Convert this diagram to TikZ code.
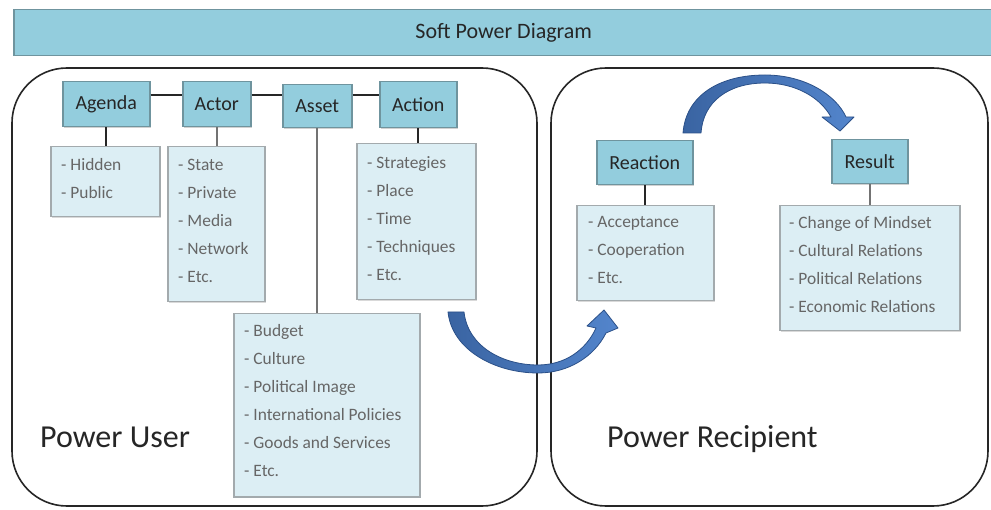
\documentclass[tikz,border=0pt]{standalone}
\usepackage{fontspec}
\setmainfont{Carlito}
\usetikzlibrary{arrows.meta,shadows}
\definecolor{hdrfill}{HTML}{93CDDD}
\definecolor{hdrdraw}{HTML}{6F949E}
\definecolor{lstfill}{HTML}{DCEEF4}
\definecolor{lstdraw}{HTML}{A3AAAD}
\definecolor{lsttext}{HTML}{666666}
\definecolor{arrdark}{HTML}{3A64A2}
\definecolor{arrlight}{HTML}{5385CC}
\definecolor{arredge}{HTML}{2B5088}
\tikzset{
  hdr/.style={draw=hdrdraw, line width=1.5pt, fill=hdrfill, anchor=north west, inner sep=0pt,
    font=\fontsize{20}{22}\selectfont, text=black!85,
    drop shadow={shadow xshift=1.5pt, shadow yshift=-1.5pt, fill=black!18, opacity=1}},
  lst/.style={draw=lstdraw, line width=1.5pt, fill=lstfill, anchor=north west, inner sep=0pt,
    drop shadow={shadow xshift=1.5pt, shadow yshift=-1.5pt, fill=black!15, opacity=1}},
  lsttxt/.style={anchor=north west, inner sep=0pt, align=left, text=lsttext,
    font=\fontsize{17.4}{28}\selectfont},
  big/.style={draw=black!85, line width=1.6pt, rounded corners=55pt},
  conn/.style={draw=black!85, line width=2.5pt},
  connd/.style={draw=black!85, line width=2pt},
  connv/.style={draw=black!55, line width=2pt},
  blockarr/.style={draw=arredge, line width=0.8pt, left color=arrdark, right color=arrlight, line join=round},
  region/.style={anchor=base west, inner sep=0pt, font=\fontsize{32}{36}\selectfont, text=black!85}
}
\begin{document}
\begin{tikzpicture}[x=1pt,y=-1pt]
\useasboundingbox[fill=white] (0,0) rectangle (991,510);
% title
\node[draw=hdrdraw, line width=1.5pt, fill=hdrfill, anchor=north west, inner sep=0pt,
  minimum width=980pt, minimum height=46pt, font=\fontsize{22}{24}\selectfont, text=black!85]
  (title) at (13,9) {Soft Power Diagram};
% big regions
\draw[big] (12,68) rectangle (537,506);
\draw[big] (551,68) rectangle (988,506);
\node[region] (pu) at (40,448) {Power User};
\node[region] (pr) at (607,448) {Power Recipient};
% list boxes
\node[lst, minimum width=109pt, minimum height=70pt] (agl) at (50,146) {};
\node[lst, minimum width=97pt, minimum height=155pt] (acl) at (167,146) {};
\node[lst, minimum width=119pt, minimum height=156pt] (anl) at (356,143) {};
\node[lst, minimum width=186pt, minimum height=183pt] (asl) at (233,313) {};
\node[lst, minimum width=137pt, minimum height=95pt] (rel) at (576,205) {};
\node[lst, minimum width=180pt, minimum height=125pt] (rsl) at (779,205) {};
% header boxes
\node[hdr, minimum width=87pt, minimum height=45pt] (agenda) at (62,81) {Agenda};
\node[hdr, minimum width=68pt, minimum height=45pt] (actor) at (182,81) {Actor};
\node[hdr, minimum width=69pt, minimum height=43pt] (asset) at (282,84) {Asset};
\node[hdr, minimum width=77pt, minimum height=46pt] (action) at (379,81) {Action};
\node[hdr, minimum width=96pt, minimum height=44pt] (reaction) at (596,140) {Reaction};
\node[hdr, minimum width=76pt, minimum height=44pt] (result) at (831,139) {Result};
% connectors
\draw[conn] (agenda.east |- 0,95) -- (actor.west |- 0,95);
\draw[conn] (actor.east |- 0,95) -- (asset.west |- 0,95);
\draw[conn] (asset.east |- 0,95) -- (action.west |- 0,95);
\draw[connd] (agenda.south) -- (agenda.south |- agl.north);
\draw[connv] (actor.south) -- (actor.south |- acl.north);
\draw[connv] (asset.south) -- (asset.south |- asl.north);
\draw[connd] (action.south) -- (action.south |- anl.north);
\draw[connd] (reaction.south) -- (reaction.south |- rel.north);
\draw[connv] (result.south) -- (result.south |- rsl.north);
% list texts
\node[lsttxt] (aglt) at ([xshift=11pt,yshift=-12pt]agl.north west) {- Hidden\\- Public};
\node[lsttxt] (aclt) at ([xshift=11pt,yshift=-13pt]acl.north west) {- State\\- Private\\- Media\\- Network\\- Etc.};
\node[lsttxt] (anlt) at ([xshift=11pt,yshift=-13pt]anl.north west) {- Strategies\\- Place\\- Time\\- Techniques\\- Etc.};
\node[lsttxt] (aslt) at ([xshift=11pt,yshift=-11pt]asl.north west) {- Budget\\- Culture\\- Political Image\\- International Policies\\- Goods and Services\\- Etc.};
\node[lsttxt] (relt) at ([xshift=12pt,yshift=-11pt]rel.north west) {- Acceptance\\- Cooperation\\- Etc.};
\node[lsttxt] (rslt) at ([xshift=10pt,yshift=-11pt]rsl.north west) {- Change of Mindset\\- Cultural Relations\\- Political Relations\\- Economic Relations};
% block arrows (curved, tapered)
\path[blockarr] (448,312) .. controls (452,350) and (495,373) .. (538,373)
  .. controls (568,373) and (594,357) .. (606,333)
  -- (618,328) -- (604,310) -- (587,326) -- (596,328)
  .. controls (586,350) and (565,365) .. (538,365)
  .. controls (503,365) and (468,347) .. (464,312) -- cycle;
\path[blockarr] (683,133) .. controls (686,95) and (720,75) .. (765,75)
  .. controls (805,75) and (836,95) .. (846,117)
  -- (854,117) -- (840,131) -- (822,117) -- (831,117)
  .. controls (820,97) and (795,83) .. (765,83)
  .. controls (728,83) and (703,102) .. (701,133) -- cycle;
\end{tikzpicture}
\end{document}
